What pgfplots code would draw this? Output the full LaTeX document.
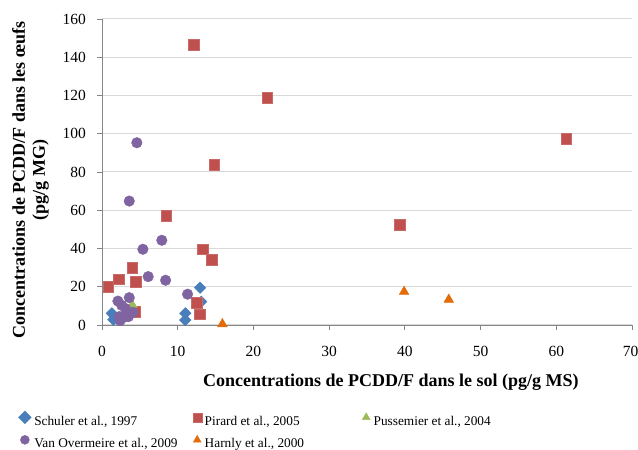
\documentclass[border=0pt]{standalone}
\usepackage{pgfplots}
\pgfplotsset{compat=1.18}
\usepackage{fontspec}
\setmainfont{Liberation Serif}
\definecolor{cBlue}{HTML}{4A7EBB}
\definecolor{cRed}{HTML}{C0504D}
\definecolor{cGreen}{HTML}{9BBB59}
\definecolor{cPurple}{HTML}{8064A2}
\definecolor{cOrange}{HTML}{E36C09}
\definecolor{cGrid}{HTML}{D9D9D9}
\definecolor{cAxis}{HTML}{868686}
\begin{document}
\begin{tikzpicture}[x=1pt,y=1pt]
\useasboundingbox (0,0) rectangle (638,450);
\begin{axis}[
  at={(102pt,125pt)}, anchor=south west,
  scale only axis, width=530pt, height=306pt,
  xmin=0, xmax=70, ymin=0, ymax=160,
  xtick={0,10,...,70}, ytick={0,20,...,160},
  xticklabels={0,10,20,30,40,50,60,\hspace*{-3pt}70},
  clip=false,
  axis x line*=bottom, axis y line*=left,
  axis line style={draw=cAxis, line width=0.8pt, -},
  tick align=outside, major tick length=5pt,
  tick style={draw=cAxis, line width=0.8pt},
  ymajorgrids, major grid style={draw=cGrid, line width=1pt},
  /pgf/number format/assume math mode=true,
  tick label style={font=\fontsize{15.5}{17}\selectfont},
  yticklabel style={anchor=east, inner sep=0pt, xshift=-11pt},
  xticklabel style={anchor=north, inner sep=0pt, yshift=-16pt},
  xlabel={Concentrations de PCDD/F dans le sol (pg/g MS)},
  xlabel style={font=\fontsize{18}{20}\selectfont\bfseries, at={(axis description cs:0.545,-0.2026)}, anchor=base},
  ylabel={Concentrations de PCDD/F dans les œufs\\(pg/g MG)},
  ylabel style={font=\fontsize{18}{20}\selectfont\bfseries, align=center, at={(axis description cs:-0.1349,0.474)}, anchor=center},
  legend columns=3,
  legend cell align=left,
  legend style={draw=none, fill=none, inner sep=0pt, outer sep=0pt,
    at={(axis description cs:-0.1575,-0.2810)}, anchor=north west,
    font=\fontsize{13.3}{15}\selectfont,
    nodes={inner sep=0pt, text height=10pt, text depth=3pt},
    row sep=6.5pt,
    /tikz/every odd column/.append style={column sep=3pt},
    /tikz/column 2/.style={column sep=15.2pt},
    /tikz/column 4/.style={column sep=57.6pt}},
  legend image code/.code={\path[draw=none, fill=none] (-4.5pt,0.5pt) rectangle (4.5pt,9.5pt); \draw[#1, mark size=4.5pt] plot coordinates {(0pt,4.5pt)};},
]
\addplot[only marks, color=cBlue, mark=square*, mark size=4.1pt, mark options={rotate=45, draw=cBlue, fill=cBlue}] coordinates {
 (1.3,6.1) (1.5,2.8) (11.0,6.1) (11.0,2.6) (12.95,19.5) (13.1,12.2)
};
\addlegendentry{Schuler et al., 1997}
\addplot[only marks, color=cRed, mark=square*, mark size=5.3pt, mark options={draw=cRed!85!white, fill=cRed}] coordinates {
 (0.8,20) (2.2,24) (4.0,30) (4.45,22.5) (4.4,6.8) (8.5,57.2) (12.15,146.6) (21.8,118.9)
 (14.8,83.8) (13.3,39.7) (14.5,34.3) (12.5,11.7) (12.9,5.7) (39.3,52.5) (61.3,97.3)
};
\addlegendentry{Pirard et al., 2005}
\addplot[only marks, color=cGreen, mark=triangle*, mark size=5.6pt, mark options={draw=cGreen, fill=cGreen}] coordinates {
 (4.0,10.5)
};
\addlegendentry{Pussemier et al., 2004}
\addplot[only marks, color=cPurple, mark=*, mark size=5.3pt, mark options={draw=cPurple, fill=cPurple}] coordinates {
 (4.6,95.3) (3.6,64.8) (7.9,44.3) (5.4,39.6) (6.1,25.3) (8.4,23.4) (11.3,16.1) (3.6,14.3)
 (2.1,12.5) (2.6,10.3) (3.1,8.6) (4.1,6.6) (3.6,6.4) (2.3,4.4) (3.0,4.2) (2.4,2.3) (3.5,4.4)
};
\addlegendentry{Van Overmeire et al., 2009}
\addplot[only marks, color=cOrange, mark=triangle*, mark size=5.6pt, mark options={draw=cOrange, fill=cOrange}] coordinates {
 (15.9,0.5) (39.9,17.4) (45.8,13.3)
};
\addlegendentry{Harnly et al., 2000}
\end{axis}
\end{tikzpicture}
\end{document}
